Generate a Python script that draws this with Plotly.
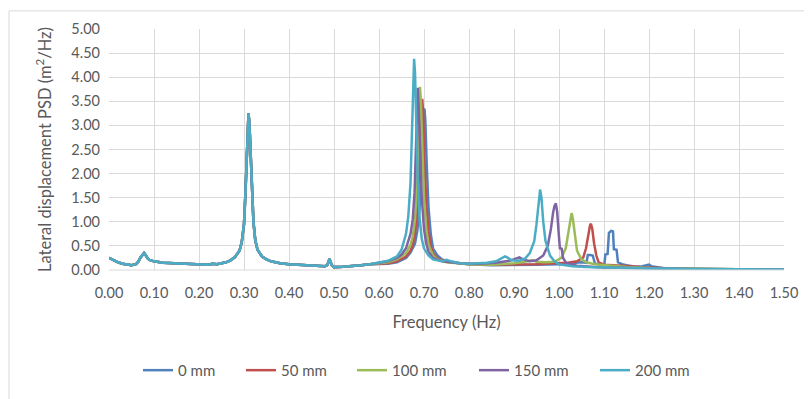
import plotly.graph_objects as go

# ---- shared low-frequency part (all series coincide) ----
FREQ_LOW = [0.00, 0.01, 0.02, 0.03, 0.04, 0.05, 0.06, 0.065, 0.07, 0.075, 0.078, 0.082, 0.086, 0.09,
            0.10, 0.12, 0.14, 0.16, 0.18, 0.20, 0.22, 0.23, 0.24, 0.26, 0.27, 0.28, 0.29, 0.295,
            0.30, 0.303, 0.306, 0.308, 0.310, 0.312, 0.315, 0.318, 0.321, 0.325, 0.33, 0.34, 0.35,
            0.36, 0.38, 0.40, 0.42, 0.44, 0.46, 0.48, 0.485, 0.49, 0.495, 0.50, 0.52, 0.54, 0.56, 0.58]
PSD_LOW = [0.25, 0.20, 0.16, 0.13, 0.11, 0.10, 0.12, 0.17, 0.26, 0.33, 0.35, 0.30, 0.24, 0.21,
           0.18, 0.15, 0.14, 0.13, 0.12, 0.11, 0.11, 0.13, 0.12, 0.16, 0.20, 0.27, 0.40, 0.58,
           0.95, 1.55, 2.40, 3.00, 3.25, 3.05, 2.40, 1.60, 1.00, 0.62, 0.42, 0.28, 0.22,
           0.18, 0.14, 0.12, 0.11, 0.10, 0.09, 0.08, 0.10, 0.23, 0.10, 0.06, 0.07, 0.08, 0.10, 0.12]

# ---- series-specific high-frequency part ----
FREQ_0 = [0.60, 0.62, 0.64, 0.66, 0.67, 0.68, 0.685, 0.69, 0.694, 0.697, 0.700, 0.701, 0.703, 0.706,
          0.71, 0.715, 0.72, 0.73, 0.74, 0.76, 0.80, 0.85, 0.90, 0.95, 1.00, 1.03, 1.05, 1.061,
          1.064, 1.069, 1.075, 1.080, 1.09, 1.095, 1.101, 1.103, 1.108, 1.111, 1.116, 1.120, 1.122,
          1.128, 1.131, 1.14, 1.15, 1.17, 1.185, 1.195, 1.20, 1.205, 1.215, 1.23, 1.26, 1.30, 1.40, 1.50]
PSD_0 = [0.12, 0.13, 0.16, 0.25, 0.36, 0.55, 0.80, 1.25, 2.00, 2.80, 3.30, 3.35, 3.10, 2.20,
         1.30, 0.75, 0.45, 0.30, 0.22, 0.16, 0.12, 0.10, 0.10, 0.11, 0.12, 0.14, 0.16, 0.15,
         0.31, 0.31, 0.30, 0.13, 0.10, 0.10, 0.13, 0.32, 0.33, 0.77, 0.81, 0.80, 0.43,
         0.42, 0.16, 0.12, 0.10, 0.07, 0.08, 0.11, 0.11, 0.08, 0.06, 0.04, 0.03, 0.02, 0.015, 0.01]

FREQ_50 = [0.60, 0.62, 0.64, 0.66, 0.67, 0.675, 0.68, 0.685, 0.689, 0.692, 0.695, 0.696, 0.698,
           0.701, 0.705, 0.71, 0.715, 0.72, 0.73, 0.75, 0.80, 0.85, 0.90, 0.95, 0.99, 1.02, 1.04,
           1.054, 1.06, 1.065, 1.069, 1.071, 1.074, 1.078, 1.083, 1.088, 1.10, 1.12, 1.14, 1.15,
           1.16, 1.18, 1.20, 1.25, 1.30, 1.40, 1.50]
PSD_50 = [0.13, 0.14, 0.18, 0.28, 0.40, 0.52, 0.75, 1.20, 2.00, 2.90, 3.50, 3.55, 3.30,
          2.30, 1.40, 0.80, 0.50, 0.35, 0.24, 0.17, 0.12, 0.11, 0.11, 0.12, 0.14, 0.15, 0.18,
          0.26, 0.45, 0.75, 0.93, 0.96, 0.85, 0.55, 0.30, 0.16, 0.11, 0.10, 0.09, 0.10,
          0.08, 0.06, 0.05, 0.03, 0.02, 0.015, 0.01]

FREQ_100 = [0.60, 0.62, 0.64, 0.66, 0.67, 0.675, 0.68, 0.684, 0.687, 0.690, 0.691, 0.693, 0.696,
            0.70, 0.705, 0.71, 0.72, 0.73, 0.75, 0.80, 0.85, 0.90, 0.93, 0.94, 0.95, 0.97, 0.99,
            1.005, 1.015, 1.021, 1.025, 1.028, 1.031, 1.035, 1.04, 1.05, 1.06, 1.08, 1.10, 1.12,
            1.15, 1.20, 1.25, 1.30, 1.40, 1.50]
PSD_100 = [0.14, 0.16, 0.22, 0.35, 0.52, 0.70, 1.05, 1.70, 2.60, 3.60, 3.80, 3.50, 2.50,
           1.50, 0.85, 0.52, 0.30, 0.22, 0.16, 0.12, 0.11, 0.14, 0.18, 0.20, 0.17, 0.16, 0.17,
           0.25, 0.45, 0.80, 1.10, 1.18, 1.05, 0.70, 0.40, 0.22, 0.16, 0.12, 0.10, 0.08,
           0.06, 0.04, 0.03, 0.02, 0.015, 0.01]

FREQ_150 = [0.60, 0.62, 0.64, 0.65, 0.66, 0.67, 0.675, 0.679, 0.682, 0.685, 0.686, 0.688, 0.691,
            0.695, 0.70, 0.705, 0.71, 0.72, 0.74, 0.78, 0.82, 0.86, 0.89, 0.905, 0.912, 0.92,
            0.935, 0.95, 0.965, 0.975, 0.982, 0.987, 0.990, 0.993, 0.996, 0.999, 1.002, 1.006,
            1.009, 1.015, 1.025, 1.04, 1.06, 1.08, 1.10, 1.15, 1.20, 1.30, 1.40, 1.50]
PSD_150 = [0.15, 0.18, 0.25, 0.32, 0.45, 0.75, 1.05, 1.60, 2.50, 3.70, 3.78, 3.40, 2.40,
           1.50, 0.85, 0.55, 0.38, 0.25, 0.18, 0.14, 0.13, 0.15, 0.19, 0.24, 0.26, 0.22,
           0.18, 0.20, 0.30, 0.50, 0.85, 1.20, 1.33, 1.38, 1.20, 0.80, 0.45, 0.44,
           0.25, 0.16, 0.12, 0.09, 0.07, 0.06, 0.05, 0.04, 0.03, 0.02, 0.015, 0.01]

FREQ_200 = [0.60, 0.62, 0.64, 0.65, 0.66, 0.665, 0.67, 0.674, 0.677, 0.678, 0.680, 0.683, 0.686,
            0.69, 0.695, 0.70, 0.71, 0.72, 0.74, 0.75, 0.76, 0.78, 0.80, 0.82, 0.84, 0.86, 0.875,
            0.88, 0.885, 0.895, 0.91, 0.925, 0.935, 0.945, 0.95, 0.955, 0.958, 0.961, 0.965, 0.97,
            0.98, 0.99, 1.00, 1.03, 1.06, 1.10, 1.15, 1.20, 1.30, 1.40, 1.50]
PSD_200 = [0.16, 0.19, 0.28, 0.42, 0.75, 1.10, 1.80, 3.00, 4.20, 4.38, 4.10, 3.00, 1.90,
           1.10, 0.65, 0.45, 0.30, 0.22, 0.18, 0.21, 0.18, 0.14, 0.13, 0.14, 0.15, 0.18, 0.25,
           0.28, 0.26, 0.20, 0.19, 0.24, 0.35, 0.60, 0.95, 1.45, 1.67, 1.50, 1.00, 0.60,
           0.30, 0.18, 0.12, 0.08, 0.06, 0.05, 0.04, 0.03, 0.02, 0.015, 0.01]

SERIES_NAMES = ["0 mm", "50 mm", "100 mm", "150 mm", "200 mm"]
SERIES_FREQ = [FREQ_0, FREQ_50, FREQ_100, FREQ_150, FREQ_200]
SERIES_PSD = [PSD_0, PSD_50, PSD_100, PSD_150, PSD_200]
COLORS = ["#4F81BD", "#C0504D", "#9BBB59", "#8064A2", "#4BACC6"]

X_TICKS = [0.0, 0.1, 0.2, 0.3, 0.4, 0.5, 0.6, 0.7, 0.8, 0.9, 1.0, 1.1, 1.2, 1.3, 1.4, 1.5]
Y_TICKS = [0.0, 0.5, 1.0, 1.5, 2.0, 2.5, 3.0, 3.5, 4.0, 4.5, 5.0]

FONT = "Lato, 'Open Sans', sans-serif"
GREY = "#595959"

# layout geometry (figure px; the page body adds an 8px offset)
W, H = 804, 391
ML, MR, MT, MB = 101, 28, 19, 126
PW, PH = W - ML - MR, H - MT - MB
LEGEND_PX = [130, 233, 344, 466, 587]   # left edge of each legend entry
LEGEND_Y_PX = 367.5

fig = go.Figure()
legend_layouts = {}
for i, (name, fx, py, col) in enumerate(zip(SERIES_NAMES, SERIES_FREQ, SERIES_PSD, COLORS)):
    lkey = "legend" if i == 0 else f"legend{i + 1}"
    fig.add_trace(go.Scatter(
        x=FREQ_LOW + fx, y=PSD_LOW + py, mode="lines", name=name,
        line=dict(color=col, width=2.5), legend=lkey,
    ))
    legend_layouts[lkey] = dict(
        x=(LEGEND_PX[i] - ML) / PW, xanchor="left",
        y=(MT + PH - LEGEND_Y_PX) / PH, yanchor="middle",
        orientation="h", font=dict(size=15, color=GREY, family=FONT),
        bgcolor="rgba(0,0,0,0)", borderwidth=0,
    )

fig.update_layout(
    width=W, height=H,
    margin=dict(l=ML, r=MR, t=MT, b=MB),
    paper_bgcolor="white", plot_bgcolor="white",
    font=dict(family=FONT, size=14.5, color=GREY),
    showlegend=True,
    xaxis=dict(range=[0, 1.5], tickvals=X_TICKS, tickformat=".2f", showgrid=True,
               gridcolor="#D9D9D9", gridwidth=1, zeroline=False, showline=False,
               ticks="", ticklabelstandoff=12, tickfont=dict(size=14.5, color=GREY),
               title=dict(text="Frequency (Hz)", font=dict(size=16.5, color=GREY), standoff=16)),
    yaxis=dict(range=[0, 5], tickvals=Y_TICKS, tickformat=".2f", showgrid=True,
               gridcolor="#D9D9D9", gridwidth=1, zeroline=False, showline=False,
               ticks="", ticklabelstandoff=8, tickfont=dict(size=14.5, color=GREY),
               title=dict(text="Lateral displacement PSD (m<sup>2</sup>/Hz)",
                          font=dict(size=16.5, color=GREY), standoff=15)),
    shapes=[dict(type="rect", xref="paper", yref="paper", x0=(1 - ML) / PW, x1=1.2,
                 y0=-0.7, y1=(MT + PH - 0.5) / PH,
                 line=dict(color="#D9D9D9", width=1), fillcolor="rgba(0,0,0,0)", layer="below"),
            dict(type="line", xref="paper", yref="paper", x0=0, x1=1, y0=0, y1=0,
                 line=dict(color="#D9D9D9", width=1))],
    **legend_layouts,
)

fig.write_html("out.html")
